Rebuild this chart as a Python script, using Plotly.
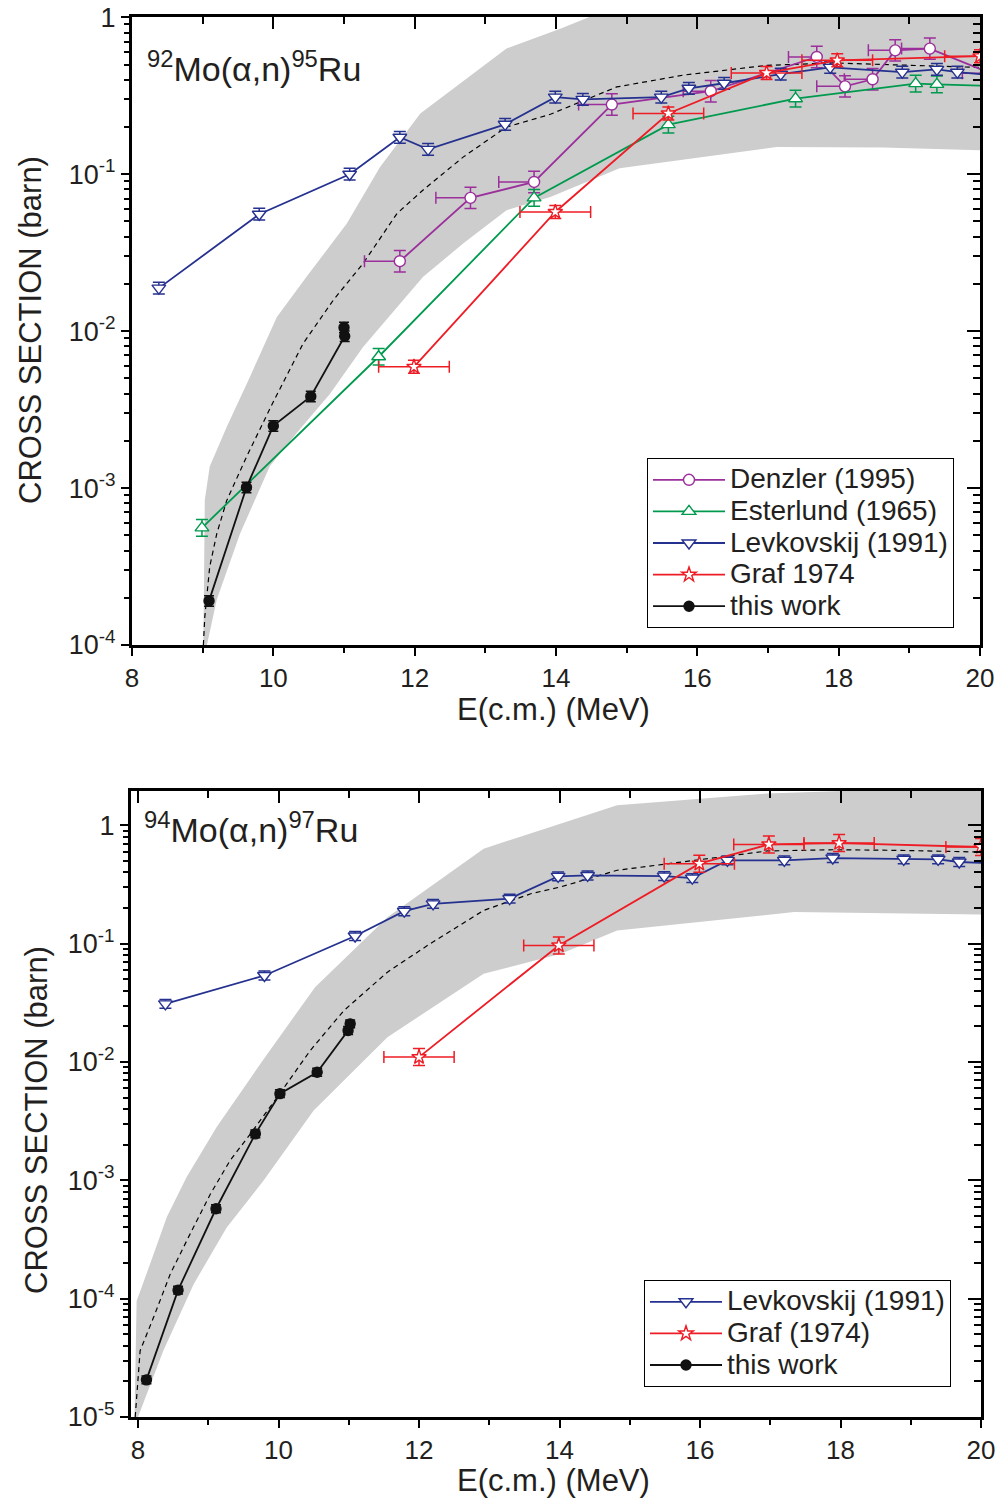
import plotly.graph_objects as go

FONT = "Liberation Sans, Arial, sans-serif"
TXT = "#231F20"

# ---------------- colours ----------------
C_DEN = "#9B2F9B"
C_EST = "#009A4E"
C_LEV = "#25318F"
C_GRAF = "#EE1C25"
C_THIS = "#111111"
C_BAND = "#CDCDCD"

# ---------------- top panel: 92Mo(a,n)95Ru ----------------
lev1_E = [8.38, 9.80, 11.08, 11.79, 12.19, 13.28, 13.99, 14.38, 15.49, 15.88, 16.38, 17.18, 17.88, 18.90, 19.39, 19.68, 20.10]
lev1_s = [0.0188, 0.0556, 0.100, 0.172, 0.144, 0.208, 0.31, 0.30, 0.31, 0.353, 0.38, 0.434, 0.48, 0.447, 0.466, 0.447, 0.43]

den1_E = [11.79, 12.79, 13.69, 14.79, 16.19, 17.69, 18.09, 18.48, 18.80, 19.29, 20.15]
den1_s = [0.0279, 0.0707, 0.0893, 0.278, 0.338, 0.559, 0.363, 0.403, 0.616, 0.632, 0.44]
den1_xlo = [0.5, 0.49, 0.5, 0.47, 0.39, 0.4, 0.4, 0.4, 0.38, 0.4, 0.4]

est1_E = [8.99, 11.49, 13.69, 15.59, 17.39, 19.09, 19.39, 20.20]
est1_s = [5.58e-4, 6.87e-3, 0.0707, 0.207, 0.303, 0.378, 0.374, 0.365]

graf1_E = [11.99, 13.99, 15.59, 16.98, 17.98, 20.00]
graf1_s = [5.93e-3, 0.0575, 0.244, 0.442, 0.532, 0.565]
graf1_xerr = [0.5, 0.5, 0.5, 0.5, 0.5, 0.5]

this1_E = [9.09, 9.62, 10.00, 10.53, 11.01, 11.00]
this1_s = [1.91e-4, 1.01e-3, 2.49e-3, 3.84e-3, 9.29e-3, 1.055e-2]

th1_E = [9.01, 9.03, 9.10, 9.20, 9.34, 9.62, 10.00, 10.42, 10.85, 11.27, 11.75, 12.12, 12.69, 13.30, 13.92, 14.86, 15.80, 16.98, 17.92, 18.63, 20.0]
th1_s = [1.0e-4, 1.51e-4, 3.16e-4, 5.13e-4, 8.32e-4, 1.58e-3, 3.55e-3, 8.32e-3, 0.0158, 0.027, 0.0562, 0.0794, 0.129, 0.20, 0.241, 0.36, 0.428, 0.494, 0.512, 0.501, 0.479]

band1_up_E = [9.01, 9.03, 9.10, 9.34, 9.67, 10.05, 10.47, 11.04, 11.51, 12.08, 13.30, 14.06, 14.58, 16.0, 20.0]
band1_up_s = [1.0e-4, 8.39e-4, 1.37e-3, 2.45e-3, 5.13e-3, 0.0123, 0.0222, 0.0485, 0.111, 0.244, 0.632, 0.847, 1.05, 1.15, 1.3]
band1_lo_E = [9.06, 9.20, 9.53, 9.95, 10.33, 10.80, 11.27, 11.56, 11.84, 12.12, 12.69, 13.30, 13.92, 14.9, 17.12, 18.63, 20.0]
band1_lo_s = [1.0e-4, 1.95e-4, 5.13e-4, 1.38e-3, 2.24e-3, 3.98e-3, 7.94e-3, 0.0112, 0.0158, 0.0222, 0.0363, 0.0589, 0.0716, 0.109, 0.149, 0.148, 0.142]

# ---------------- bottom panel: 94Mo(a,n)97Ru ----------------
lev2_E = [8.39, 9.80, 11.09, 11.79, 12.20, 13.29, 13.98, 14.40, 15.49, 15.89, 16.39, 17.20, 17.89, 18.90, 19.39, 19.69, 20.10]
lev2_s = [0.031, 0.0538, 0.116, 0.188, 0.217, 0.24, 0.37, 0.377, 0.372, 0.358, 0.506, 0.506, 0.529, 0.516, 0.516, 0.49, 0.48]

graf2_E = [12.00, 13.99, 15.99, 16.98, 17.98, 20.00]
graf2_s = [0.011, 0.0966, 0.474, 0.69, 0.708, 0.656]
graf2_xerr = [0.5, 0.5, 0.5, 0.5, 0.5, 0.5]

this2_E = [8.12, 8.57, 9.11, 9.67, 10.02, 10.55, 10.99, 11.02]
this2_s = [2.06e-5, 1.18e-4, 5.75e-4, 2.47e-3, 5.4e-3, 8.2e-3, 0.01845, 0.021]

th2_E = [7.96, 8.03, 8.22, 8.46, 8.74, 9.03, 9.31, 9.60, 9.98, 10.45, 10.93, 11.55, 12.16, 12.92, 13.59, 14.01, 14.82, 15.77, 16.96, 17.91, 18.86, 20.0]
th2_s = [1e-5, 3.63e-5, 6.92e-5, 1.62e-4, 3.51e-4, 7.66e-4, 1.47e-3, 2.47e-3, 5.02e-3, 0.01247, 0.0272, 0.0574, 0.10, 0.191, 0.264, 0.301, 0.417, 0.495, 0.607, 0.622, 0.614, 0.594]

band2_up_E = [7.95, 7.98, 8.17, 8.41, 8.69, 9.12, 9.76, 10.52, 11.55, 12.92, 13.87, 14.82, 16.96, 20.0]
band2_up_s = [1.0e-5, 9.55e-5, 1.95e-4, 4.9e-4, 1.06e-3, 2.82e-3, 0.010, 0.0429, 0.1675, 0.635, 0.968, 1.476, 1.854, 2.14]
band2_lo_E = [8.00, 8.36, 8.79, 9.26, 9.79, 10.50, 11.55, 12.92, 14.02, 14.82, 17.34, 20.0]
band2_lo_s = [1e-5, 3.63e-5, 1.32e-4, 3.98e-4, 1.0e-3, 3.89e-3, 0.0162, 0.0556, 0.082, 0.129, 0.185, 0.176]

# relative y-uncertainties per data set
rel_lev, rel_den, rel_est, rel_graf, rel_this = 0.09, 0.17, 0.13, 0.10, 0.08
this_xerr = 0.05

# tick labels
x_tickvals = [8, 10, 12, 14, 16, 18, 20]
x_ticktext = ["8", "10", "12", "14", "16", "18", "20"]
x_minor = [9, 11, 13, 15, 17, 19]
y1_tickvals = [1e-4, 1e-3, 1e-2, 1e-1, 1]
y1_ticktext = ["10<sup>-4</sup>", "10<sup>-3</sup>", "10<sup>-2</sup>", "10<sup>-1</sup>", "1"]
y2_tickvals = [1e-5, 1e-4, 1e-3, 1e-2, 1e-1, 1]
y2_ticktext = ["10<sup>-5</sup>", "10<sup>-4</sup>", "10<sup>-3</sup>", "10<sup>-2</sup>", "10<sup>-1</sup>", "1"]


def log_minor(lo_exp, hi_exp):
    return [k * 10.0 ** e for e in range(lo_exp, hi_exp + 1) for k in range(2, 10)]


fig = go.Figure()


def add_band(Eu, su, El, sl, xa, ya):
    fig.add_trace(go.Scatter(
        x=list(Eu) + list(El[::-1]), y=list(su) + list(sl[::-1]),
        fill="toself", fillcolor=C_BAND, mode="lines", line=dict(width=0, color=C_BAND),
        showlegend=False, hoverinfo="skip", xaxis=xa, yaxis=ya))


def add_theory(E, s, xa, ya):
    fig.add_trace(go.Scatter(
        x=E, y=s, mode="lines", line=dict(color="black", width=1.2, dash="5px,4px"),
        showlegend=False, hoverinfo="skip", xaxis=xa, yaxis=ya))


def add_series(E, s, name, color, symbol, size, fill, rel, xa, ya, legend,
               xerr=None, xerr_minus=None, capx=6, capy=6):
    up = [v * rel for v in s]
    dn = [v * rel / (1 + rel) for v in s]
    ex = None
    if xerr is not None:
        ex = dict(type="data", array=xerr, symmetric=True, color=color, thickness=1.5, width=capx)
    elif xerr_minus is not None:
        ex = dict(type="data", array=[0] * len(E), arrayminus=xerr_minus, symmetric=False,
                  color=color, thickness=1.5, width=capx)
    fig.add_trace(go.Scatter(
        x=E, y=s, mode="lines+markers",
        name='<span style="font-size:28px">' + name + "</span>",
        line=dict(color=color, width=1.8),
        marker=dict(symbol=symbol, size=size, color=fill, line=dict(color=color, width=1.4)),
        error_y=dict(type="data", array=up, arrayminus=dn, symmetric=False,
                     color=color, thickness=1.5, width=capy),
        error_x=ex, xaxis=xa, yaxis=ya, legend=legend, cliponaxis=True))


# ---- top panel traces
add_band(band1_up_E, band1_up_s, band1_lo_E, band1_lo_s, "x", "y")
add_theory(th1_E, th1_s, "x", "y")
add_series(den1_E, den1_s, "Denzler (1995)", C_DEN, "circle", 11, "white", rel_den, "x", "y", "legend",
           xerr_minus=den1_xlo)
add_series(est1_E, est1_s, "Esterlund (1965)", C_EST, "triangle-up", 12, "white", rel_est, "x", "y", "legend")
add_series(lev1_E, lev1_s, "Levkovskij (1991)", C_LEV, "triangle-down", 12, "white", rel_lev, "x", "y", "legend")
add_series(graf1_E, graf1_s, "Graf 1974", C_GRAF, "star", 11, "white", rel_graf, "x", "y", "legend",
           xerr=graf1_xerr)
add_series(this1_E, this1_s, "this work", C_THIS, "circle", 10, C_THIS, rel_this, "x", "y", "legend",
           xerr=[this_xerr] * len(this1_E), capx=2, capy=5)

# ---- bottom panel traces
add_band(band2_up_E, band2_up_s, band2_lo_E, band2_lo_s, "x2", "y2")
add_theory(th2_E, th2_s, "x2", "y2")
add_series(lev2_E, lev2_s, "Levkovskij (1991)", C_LEV, "triangle-down", 12, "white", rel_lev, "x2", "y2", "legend2")
add_series(graf2_E, graf2_s, "Graf (1974)", C_GRAF, "star", 11, "white", 0.18, "x2", "y2", "legend2",
           xerr=graf2_xerr)
add_series(this2_E, this2_s, "this work", C_THIS, "circle", 10, C_THIS, rel_this, "x2", "y2", "legend2",
           xerr=[this_xerr] * len(this2_E), capx=2, capy=5)

# dummy traces to materialise the mirror (top/right) axes
for xa, ya in (("x3", "y3"), ("x4", "y4")):
    fig.add_trace(go.Scatter(x=[10], y=[0.01], mode="markers", marker=dict(opacity=0),
                             showlegend=False, hoverinfo="skip", xaxis=xa, yaxis=ya))

# figure size (body margin removed via post_script)
OX, OY = 0, 0
W, H = 1000, 1504


def PX(p):
    return (p - OX) / W


def PY(p):
    return 1 - (p - OY) / H


top_xdom = [PX(132), PX(980)]
top_ydom = [PY(645), PY(17)]
bot_xdom = [PX(131), PX(981)]
bot_ydom = [PY(1417), PY(791)]

xtickfont = dict(size=26, color=TXT, family=FONT)
ytickfont = dict(size=27, color=TXT, family=FONT)


def x_axis(domain, rng, anchor, inside=False, overlay=None):
    d = dict(range=rng, showgrid=False, zeroline=False, showline=True, linecolor="black",
             linewidth=3, tickcolor="black", tickwidth=2, tickmode="array", automargin=False,
             tickvals=x_tickvals, ticktext=x_ticktext, tickfont=xtickfont, anchor=anchor,
             minor=dict(tickmode="array", tickvals=x_minor, ticks="inside" if inside else "outside",
                        ticklen=7 if inside else 5, tickcolor="black", tickwidth=2))
    if inside:
        d.update(ticks="inside", ticklen=12, showticklabels=False, side="top", overlaying=overlay)
    else:
        d.update(ticks="outside", ticklen=8, domain=domain)
    return d


def y_axis(domain, rng, anchor, tv, tt, minors, inside=False, overlay=None):
    d = dict(type="log", range=rng, showgrid=False, zeroline=False, showline=True,
             linecolor="black", linewidth=3, tickcolor="black", tickwidth=2, tickmode="array",
             automargin=False, tickvals=tv, ticktext=tt, tickfont=ytickfont, anchor=anchor,
             minor=dict(tickmode="array", tickvals=minors, ticks="inside" if inside else "outside",
                        ticklen=7 if inside else 5, tickcolor="black", tickwidth=1.6))
    if inside:
        d.update(ticks="inside", ticklen=13, showticklabels=False, side="right", overlaying=overlay)
    else:
        d.update(ticks="outside", ticklen=8, domain=domain)
    return d


legend_common = dict(xanchor="left", yanchor="top", bgcolor="white", bordercolor="black",
                     borderwidth=1, font=dict(size=22, family=FONT, color=TXT),
                     tracegroupgap=0, itemwidth=72)

top_yrange = [-4, 0.002]
bot_yrange = [-5, 0.29]

fig.update_layout(
    width=W, height=H, margin=dict(l=0, r=0, t=0, b=0, autoexpand=False),
    paper_bgcolor="white", plot_bgcolor="white",
    font=dict(family=FONT, color=TXT),
    xaxis=x_axis(top_xdom, [8, 20], "y"),
    yaxis=y_axis(top_ydom, top_yrange, "x", y1_tickvals, y1_ticktext, log_minor(-4, -1)),
    xaxis3=x_axis(top_xdom, [8, 20], "y", inside=True, overlay="x"),
    yaxis3=y_axis(top_ydom, top_yrange, "x", y1_tickvals, y1_ticktext, log_minor(-4, -1), inside=True, overlay="y"),
    xaxis2=x_axis(bot_xdom, [7.9, 20], "y2"),
    yaxis2=y_axis(bot_ydom, bot_yrange, "x2", y2_tickvals, y2_ticktext, log_minor(-5, 0)),
    xaxis4=x_axis(bot_xdom, [7.9, 20], "y2", inside=True, overlay="x2"),
    yaxis4=y_axis(bot_ydom, bot_yrange, "x2", y2_tickvals, y2_ticktext, log_minor(-5, 0), inside=True, overlay="y2"),
    legend=dict(x=PX(647), y=PY(458), **legend_common),
    legend2=dict(x=PX(644), y=PY(1280), **legend_common),
    showlegend=True,
)

ann = [
    dict(text="<sup>92</sup>Mo(α,n)<sup>95</sup>Ru", x=PX(145), y=PY(66)),
    dict(text="<sup>94</sup>Mo(α,n)<sup>97</sup>Ru", x=PX(142), y=PY(828)),
]
for a in ann:
    fig.add_annotation(xref="paper", yref="paper", xanchor="left", yanchor="middle",
                       showarrow=False, font=dict(size=34, family=FONT, color=TXT), **a)

for yc in (710, 1480):
    fig.add_annotation(text="E(c.m.) (MeV)", xref="paper", yref="paper", x=PX(553), y=PY(yc),
                       xanchor="center", yanchor="middle", showarrow=False,
                       font=dict(size=31, family=FONT, color=TXT))
for xc, yc in ((30, 330), (36, 1120)):
    fig.add_annotation(text="CROSS SECTION (barn)", xref="paper", yref="paper", x=PX(xc), y=PY(yc),
                       xanchor="center", yanchor="middle", textangle=-90, showarrow=False,
                       font=dict(size=31, family=FONT, color=TXT))

fig.write_html("out.html", config={"displayModeBar": False},
               post_script="document.body.style.margin='0px';document.body.style.overflow='hidden';")
